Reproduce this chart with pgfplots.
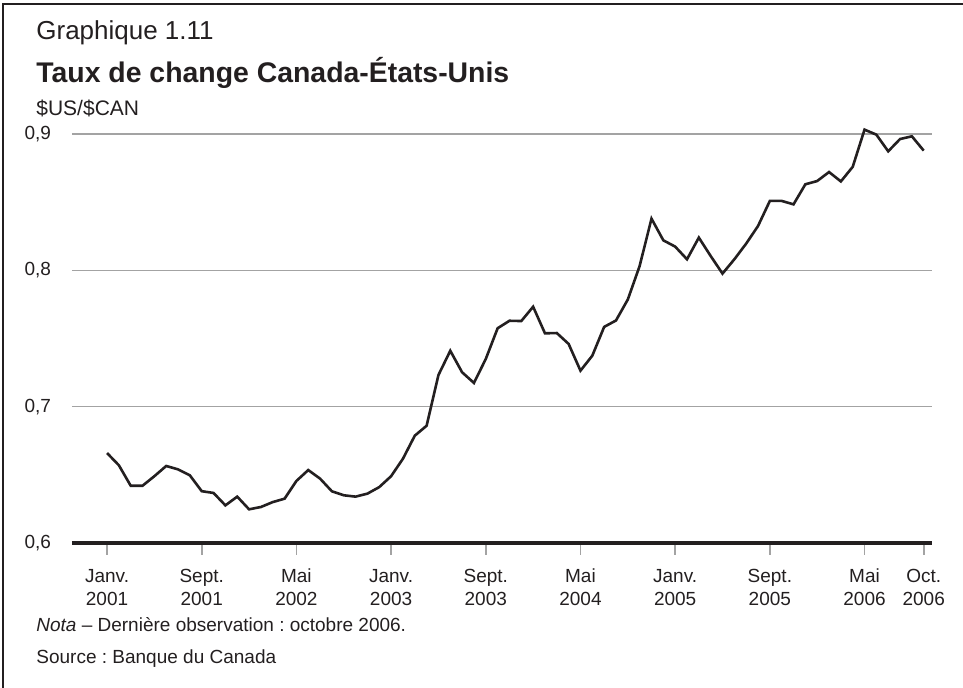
\documentclass[border=0pt]{standalone}
\usepackage{fontspec}
\setmainfont{Liberation Sans}
\usepackage{pgfplots}
\pgfplotsset{compat=1.18}
\usepackage{pgfplotstable}
\frenchspacing

\definecolor{ink}{HTML}{231F20}
\definecolor{gridgray}{HTML}{A3A3A3}

% taux de change mensuel, janv. 2001 (0) a oct. 2006 (69)
\pgfplotstableread{
m rate
0 0.666
1 0.657
2 0.642
3 0.642
4 0.649
5 0.6565
6 0.654
7 0.6496
8 0.638
9 0.6367
10 0.6276
11 0.634
12 0.6247
13 0.6264
14 0.630
15 0.6325
16 0.6455
17 0.6535
18 0.6472
19 0.6379
20 0.635
21 0.634
22 0.6362
23 0.641
24 0.649
25 0.6618
26 0.6787
27 0.686
28 0.7232
29 0.741
30 0.7252
31 0.7174
32 0.735
33 0.7575
34 0.763
35 0.7628
36 0.7733
37 0.7538
38 0.754
39 0.746
40 0.7264
41 0.7374
42 0.7585
43 0.7632
44 0.7786
45 0.8032
46 0.8379
47 0.822
48 0.8174
49 0.8081
50 0.824
51 0.8105
52 0.7976
53 0.8081
54 0.8196
55 0.8325
56 0.8509
57 0.8509
58 0.8484
59 0.8631
60 0.8655
61 0.8721
62 0.8652
63 0.8759
64 0.9032
65 0.8995
66 0.8873
67 0.8963
68 0.8983
69 0.8878
}\ratedata

\begin{document}
\begin{tikzpicture}[x=1pt,y=1pt]
\useasboundingbox (-36,-72.5) rectangle (445.5,271.5);
\draw[ink, line width=1pt] (-34.5,-72.5) -- (-34.5,269.5) -- (445.5,269.5);

\node[anchor=base west, inner sep=0, text=ink, font=\fontsize{13}{15}\selectfont] at (-18,251.5) {Graphique 1.11};
\node[anchor=base west, inner sep=0, text=ink, font=\fontsize{14.2}{17}\selectfont\bfseries] at (-18,230) {Taux de change Canada-États-Unis};
\node[anchor=base west, inner sep=0, text=ink, font=\fontsize{10.5}{12}\selectfont] at (-18,213.5) {\$US/\$CAN};
\node[anchor=base west, inner sep=0, text=ink, font=\fontsize{9.5}{11}\selectfont] at (-18,-44.5) {\textit{Nota} – Dernière observation : octobre 2006.};
\node[anchor=base west, inner sep=0, text=ink, font=\fontsize{9.5}{11}\selectfont] at (-18,-60.5) {Source : Banque du Canada};

\begin{axis}[
    at={(0,0)}, anchor=south west,
    scale only axis,
    width=430pt, height=204.5pt,
    xmin=-2.96, xmax=69.7,
    ymin=0.6, ymax=0.9,
    clip=false,
    axis line style={draw=none},
    xtick pos=bottom, ytick pos=left,
    tick align=outside,
    major tick length=6pt,
    xtick style={gridgray, line width=0.8pt},
    ytick style={draw=none},
    ytick={0.6,0.7,0.8,0.9},
    ymajorgrids,
    major grid style={gridgray, line width=0.8pt},
    xtick={0,8,16,24,32,40,48,56,64,69},
    xticklabels={Janv.\\2001,Sept.\\2001,Mai\\2002,Janv.\\2003,Sept.\\2003,Mai\\2004,Janv.\\2005,Sept.\\2005,Mai\\2006,Oct.\\2006},
    /pgf/number format/assume math mode=true,
    /pgf/number format/use comma,
    /pgf/number format/fixed,
    /pgf/number format/precision=1,
    /pgf/number format/fixed zerofill,
    tick label style={font=\fontsize{9.5}{11.5}\selectfont, text=ink},
    xticklabel style={align=center, yshift=-3.5pt},
    yticklabel style={xshift=-1pt},
]
\draw[ink, line width=2pt] (axis cs:-2.96,0.6) -- (axis cs:69.7,0.6);
\addplot[ink, line width=1.3pt, line join=miter, mark=none] table[x=m, y=rate] {\ratedata};
\end{axis}
\end{tikzpicture}
\end{document}
